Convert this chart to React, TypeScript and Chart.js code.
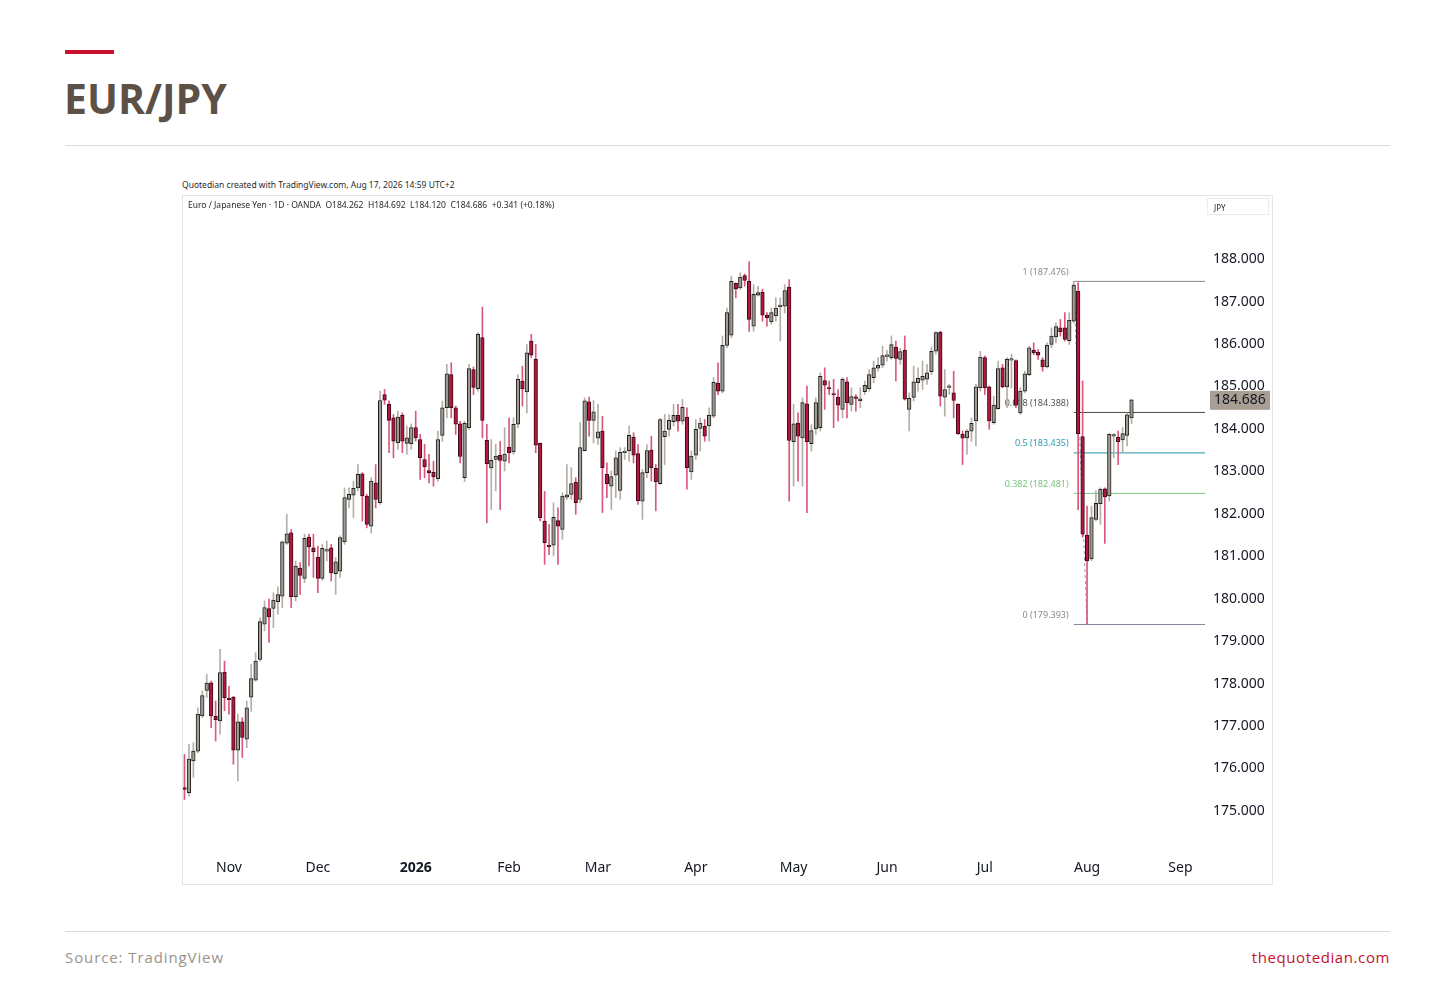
import React, { useEffect, useRef } from 'react';
import { Chart, registerables } from 'chart.js';

Chart.register(...registerables);

// ---- data (daily EUR/JPY, OANDA) ----
const openPrices = [
  175.55, 175.43, 176.18, 176.41, 177.24, 177.84, 178.02, 177.23, 177.12, 178.27,
  177.63, 177.68, 176.43, 177.10, 176.69, 177.68, 178.08, 178.57, 179.40, 179.77,
  179.77, 179.93, 180.06, 181.31, 181.55, 180.05, 180.72, 180.48, 181.45, 181.20,
  180.98, 180.48, 181.12, 181.20, 180.59, 180.65, 181.34, 182.34, 182.44, 182.61,
  182.94, 182.42, 181.71, 182.73, 182.26, 184.81, 184.58, 184.26, 183.67, 184.32,
  183.66, 183.65, 184.03, 183.75, 183.28, 183.02, 182.98, 182.83, 183.85, 184.50,
  185.28, 184.50, 184.12, 182.85, 184.03, 185.40, 184.95, 186.15, 183.73, 183.08,
  183.28, 183.38, 183.24, 183.57, 183.46, 184.11, 185.13, 184.87, 186.07, 185.64,
  183.66, 181.83, 181.26, 181.26, 181.84, 181.63, 182.39, 182.46, 182.75, 182.34,
  183.49, 184.64, 184.20, 183.78, 183.95, 182.93, 182.65, 182.91, 182.55, 183.44,
  183.49, 183.81, 183.42, 182.30, 182.97, 183.50, 183.07, 182.71, 183.82, 183.99,
  184.17, 184.32, 184.18, 184.28, 182.99, 183.38, 184.01, 184.06, 184.07, 184.30,
  185.08, 184.89, 185.97, 186.21, 187.43, 187.32, 187.61, 187.48, 186.42, 187.15,
  187.22, 186.68, 186.52, 186.66, 186.88, 186.89, 187.34, 183.70, 184.14, 183.79,
  184.59, 183.65, 184.00, 184.03, 185.14, 184.96, 184.82, 184.75, 184.46, 185.11,
  184.58, 184.73, 184.66, 184.88, 184.95, 185.21, 185.43, 185.50, 185.71, 185.68,
  185.93, 185.64, 185.85, 184.46, 184.74, 185.09, 185.15, 185.17, 185.35, 185.83,
  186.28, 184.75, 184.98, 184.85, 184.58, 183.87, 183.79, 183.95, 184.19, 184.97,
  185.68, 184.99, 184.15, 184.48, 185.44, 184.99, 185.62, 185.61, 184.38, 184.89,
  185.28, 185.86, 185.81, 185.63, 185.46, 185.99, 186.17, 186.38, 186.38, 186.08,
  186.54, 187.25, 183.82, 181.50, 180.94, 181.87, 182.24, 182.59, 182.42, 183.83,
  183.80, 183.74, 183.85, 184.262,
];
const highPrices = [
  176.33, 176.57, 176.61, 177.43, 177.83, 178.22, 178.06, 177.59, 178.81, 178.53,
  177.94, 177.70, 177.28, 177.20, 177.59, 178.45, 178.73, 179.55, 179.95, 179.99,
  180.14, 180.28, 181.36, 181.99, 181.63, 180.89, 180.85, 181.52, 181.52, 181.52,
  181.24, 181.28, 181.36, 181.28, 180.97, 181.48, 182.61, 182.61, 182.77, 183.16,
  182.97, 182.46, 182.85, 183.16, 184.89, 184.93, 184.66, 184.34, 184.42, 184.38,
  184.07, 184.12, 184.42, 183.87, 183.64, 183.40, 183.24, 183.95, 184.66, 185.52,
  185.56, 184.54, 184.18, 184.18, 185.52, 185.46, 186.27, 186.87, 184.11, 183.75,
  183.64, 183.71, 184.03, 184.26, 184.26, 185.28, 185.48, 185.99, 186.23, 185.99,
  183.67, 182.53, 181.75, 182.26, 182.14, 182.50, 183.16, 183.09, 182.85, 184.15,
  184.73, 184.75, 184.67, 184.58, 184.30, 183.20, 183.01, 183.48, 183.56, 183.56,
  184.07, 183.91, 183.63, 183.05, 183.63, 183.83, 183.16, 184.25, 184.34, 184.34,
  184.58, 184.58, 184.70, 184.50, 183.48, 184.22, 184.26, 184.22, 184.50, 185.21,
  185.56, 186.19, 186.85, 187.60, 187.44, 187.68, 187.65, 187.94, 187.40, 187.36,
  187.29, 186.74, 186.85, 187.09, 187.09, 187.40, 187.52, 184.58, 184.38, 184.73,
  185.01, 184.10, 184.73, 185.32, 185.44, 185.13, 185.17, 184.93, 185.21, 185.21,
  184.97, 184.81, 184.97, 185.13, 185.40, 185.60, 185.68, 185.95, 185.85, 186.19,
  186.07, 185.90, 186.19, 184.85, 185.48, 185.44, 185.60, 185.52, 185.93, 186.30,
  186.30, 185.40, 185.05, 185.36, 184.60, 183.95, 183.99, 184.26, 185.05, 185.83,
  185.72, 185.01, 184.77, 185.60, 185.52, 185.68, 185.76, 185.63, 184.97, 185.36,
  185.95, 186.03, 185.87, 185.68, 186.03, 186.38, 186.50, 186.58, 186.74, 186.74,
  187.476, 187.45, 185.13, 182.18, 182.18, 182.54, 182.61, 182.61, 183.89, 183.89,
  183.95, 184.03, 184.38, 184.692,
];
const lowPrices = [
  175.27, 175.35, 175.79, 176.37, 177.20, 177.67, 176.96, 176.65, 176.81, 177.36,
  177.28, 176.10, 175.71, 176.26, 176.49, 177.35, 178.06, 178.53, 179.24, 178.97,
  179.32, 179.63, 179.79, 181.28, 179.79, 179.95, 180.10, 180.38, 180.77, 180.50,
  180.14, 180.43, 180.89, 180.42, 180.10, 180.50, 181.28, 182.14, 181.91, 182.54,
  181.83, 181.67, 181.55, 182.14, 182.22, 184.58, 183.44, 183.32, 183.52, 183.44,
  183.40, 183.52, 183.71, 182.81, 182.85, 182.73, 182.65, 182.77, 183.71, 184.26,
  184.26, 183.87, 183.20, 182.76, 183.99, 184.81, 184.89, 183.79, 181.79, 182.10,
  182.54, 182.10, 183.01, 183.20, 183.40, 184.03, 184.54, 184.38, 185.68, 183.44,
  181.83, 180.81, 181.04, 181.01, 180.81, 181.40, 182.34, 182.34, 181.99, 182.26,
  183.48, 183.83, 183.67, 183.63, 182.03, 182.38, 182.10, 182.38, 182.34, 183.28,
  183.24, 183.20, 182.22, 181.87, 182.85, 182.77, 182.07, 182.69, 183.16, 183.83,
  184.07, 183.95, 184.11, 182.58, 182.81, 183.28, 183.48, 183.71, 183.71, 184.26,
  184.81, 184.85, 185.91, 186.15, 187.09, 187.29, 187.36, 186.30, 186.30, 187.13,
  186.54, 186.42, 186.46, 186.54, 186.07, 186.73, 182.30, 182.65, 182.77, 182.65,
  182.03, 183.48, 183.87, 183.95, 184.46, 184.81, 184.03, 184.19, 184.26, 184.26,
  184.42, 184.42, 184.50, 184.81, 184.89, 185.09, 185.36, 185.44, 185.60, 185.64,
  185.13, 185.52, 184.68, 183.95, 184.66, 184.89, 184.93, 185.05, 185.28, 185.76,
  184.54, 184.30, 184.81, 184.26, 183.87, 183.16, 183.40, 183.71, 183.60, 184.89,
  184.81, 183.99, 184.11, 184.46, 184.97, 184.50, 184.97, 184.50, 184.34, 184.85,
  185.25, 185.75, 185.64, 185.36, 185.44, 185.91, 186.03, 186.19, 186.07, 185.99,
  186.50, 182.10, 181.45, 179.393, 180.89, 181.83, 181.75, 181.30, 182.30, 183.32,
  183.16, 183.44, 183.60, 184.120,
];
const closePrices = [
  175.51, 176.22, 176.41, 177.28, 177.72, 178.01, 177.24, 177.15, 178.26, 177.67,
  177.62, 176.43, 177.10, 176.73, 177.43, 178.12, 178.53, 179.46, 179.79, 179.57,
  179.97, 180.10, 181.34, 181.53, 180.05, 180.77, 180.55, 181.42, 181.22, 181.11,
  180.48, 181.19, 181.13, 180.61, 180.87, 181.44, 182.38, 182.46, 182.60, 182.93,
  182.42, 181.75, 182.77, 182.34, 184.67, 184.68, 184.20, 183.71, 184.28, 183.71,
  183.79, 184.03, 183.79, 183.32, 183.11, 182.97, 182.87, 183.75, 184.50, 185.30,
  184.50, 184.11, 183.35, 184.13, 185.42, 184.98, 186.23, 184.20, 183.18, 183.26,
  183.36, 183.26, 183.41, 183.44, 184.11, 185.17, 184.95, 185.79, 185.74, 183.62,
  181.91, 181.32, 181.22, 181.92, 181.71, 182.42, 182.45, 182.71, 182.26, 183.56,
  184.66, 184.20, 184.40, 183.93, 183.09, 182.71, 182.88, 183.32, 183.45, 183.48,
  183.85, 183.38, 182.31, 182.97, 183.49, 183.09, 182.76, 184.22, 183.95, 184.20,
  184.32, 184.18, 184.51, 183.09, 183.36, 183.99, 184.14, 183.83, 184.32, 185.10,
  184.89, 185.97, 186.74, 187.48, 187.30, 187.58, 187.50, 186.58, 187.17, 187.21,
  186.68, 186.62, 186.74, 186.85, 186.92, 187.26, 183.73, 184.12, 183.83, 184.62,
  183.70, 183.96, 184.62, 185.24, 185.03, 184.94, 184.80, 184.56, 185.17, 184.62,
  184.76, 184.72, 184.71, 185.03, 185.28, 185.44, 185.50, 185.73, 185.73, 185.99,
  185.66, 185.82, 184.70, 184.72, 185.11, 185.19, 185.24, 185.32, 185.83, 186.27,
  184.77, 184.93, 185.00, 184.67, 183.89, 183.78, 183.95, 184.13, 184.99, 185.69,
  184.97, 184.19, 184.56, 185.42, 184.99, 185.64, 185.64, 184.56, 184.89, 185.30,
  185.91, 185.79, 185.74, 185.46, 185.97, 186.19, 186.41, 186.29, 186.11, 186.56,
  187.39, 183.89, 181.52, 180.89, 181.91, 182.25, 182.58, 182.40, 183.87, 183.86,
  183.70, 183.89, 184.33, 184.686,
];

// ---- axes ----
const monthLabels = ['Nov', 'Dec', '2026', 'Feb', 'Mar', 'Apr', 'May', 'Jun', 'Jul', 'Aug', 'Sep'];
const monthStartBars = [10, 30, 52, 73, 93, 115, 137, 158, 180, 203, 224];
const priceTicks = [175, 176, 177, 178, 179, 180, 181, 182, 183, 184, 185, 186, 187, 188];

// ---- Fibonacci retracement ----
const fibLevels = ['1', '0.618', '0.5', '0.382', '0'];
const fibPrices = [187.476, 184.388, 183.435, 182.481, 179.393];
const fibLineColors = ['#85858d', '#4a4a4a', '#1f98a8', '#7cc77f', '#85859a'];
const fibTextColors = ['#8a8a8a', '#555555', '#2a9bab', '#76c27a', '#8a8a8a'];
const fibHighBar = 200;
const fibLowBar = 203;

const X_MIN = -0.337;
const X_MAX = 229.53;
const Y_MIN = 174.08;
const Y_MAX = 189.04;

const UP_BODY = '#a29b91';
const DOWN_BODY = '#b3173f';
const UP_EDGE = '#1f1f1f';
const DOWN_EDGE = '#3c0a18';
const UP_WICK = '#b5aea6';
const DOWN_WICK = '#d9587f';

const FONT = '"Noto Sans", "Open Sans", sans-serif';

function isUp(i: number) {
  return closePrices[i] >= openPrices[i];
}

const overlayPlugin = {
  id: 'overlay',
  beforeDatasetsDraw(chart: any) {
    const { ctx, scales } = chart;
    const x = scales.x;
    const y = scales.y;
    ctx.save();
    ctx.font = `9px ${FONT}`;
    ctx.textAlign = 'right';
    ctx.textBaseline = 'middle';
    fibPrices.forEach((p, k) => {
      ctx.fillStyle = fibTextColors[k];
      ctx.fillText(
        `${fibLevels[k]} (${p.toFixed(3)})`,
        x.getPixelForValue(fibHighBar) - 5,
        y.getPixelForValue(p) - 9
      );
    });
    ctx.restore();
  },
  afterDraw(chart: any) {
    const { ctx, scales, chartArea } = chart;
    const y = scales.y;
    const last = closePrices[closePrices.length - 1];
    const py = y.getPixelForValue(last);
    const left = chartArea.right + 5;
    ctx.save();
    ctx.fillStyle = '#a89f94';
    ctx.fillRect(left, py - 9, 60, 19);
    ctx.fillStyle = '#131722';
    ctx.font = `14px ${FONT}`;
    ctx.textAlign = 'left';
    ctx.textBaseline = 'middle';
    ctx.fillText(last.toFixed(3), left + 4, py + 0.5);
    ctx.restore();
  },
};

function CandleChart() {
  const ref = useRef<HTMLCanvasElement | null>(null);

  useEffect(() => {
    if (!ref.current) return;
    const idx = openPrices.map((_, i) => i);

    const fibDatasets = fibPrices.map((p, k) => ({
      type: 'line' as const,
      data: [
        { x: fibHighBar, y: p },
        { x: X_MAX, y: p },
      ],
      borderColor: fibLineColors[k],
      borderWidth: 1,
      pointRadius: 0,
      order: 5,
    }));

    const trendDataset = {
      type: 'line' as const,
      data: [
        { x: fibHighBar, y: highPrices[fibHighBar] },
        { x: fibLowBar, y: lowPrices[fibLowBar] },
      ],
      borderColor: '#9a9aa2',
      borderWidth: 1,
      borderDash: [3, 3],
      pointRadius: 0,
      order: 4,
    };

    const chart = new Chart(ref.current, {
      type: 'bar',
      data: {
        datasets: [
          ...fibDatasets,
          trendDataset,
          {
            type: 'bar',
            data: idx.map((i) => ({ x: i, y: [lowPrices[i], highPrices[i]] })),
            backgroundColor: idx.map((i) => (isUp(i) ? UP_WICK : DOWN_WICK)),
            barThickness: 1,
            grouped: false,
            order: 3,
          } as any,
          {
            type: 'bar',
            data: idx.map((i) => ({ x: i, y: [openPrices[i], closePrices[i]] })),
            backgroundColor: idx.map((i) => (isUp(i) ? UP_BODY : DOWN_BODY)),
            borderColor: idx.map((i) => (isUp(i) ? UP_EDGE : DOWN_EDGE)),
            borderWidth: 1,
            borderSkipped: false,
            barThickness: 3.6,
            minBarLength: 1.5,
            grouped: false,
            order: 2,
          } as any,
        ],
      },
      options: {
        animation: false,
        responsive: true,
        maintainAspectRatio: false,
        layout: { padding: { top: 19, left: 0, right: 0, bottom: 0 } },
        plugins: {
          legend: { display: false },
          tooltip: { enabled: false },
        },
        scales: {
          x: {
            type: 'linear',
            min: X_MIN,
            max: X_MAX,
            offset: false,
            grid: { display: false, drawTicks: false },
            border: { display: false },
            afterBuildTicks: (s: any) => {
              s.ticks = monthStartBars.map((v) => ({ value: v }));
            },
            afterFit: (s: any) => {
              s.height = 34;
            },
            ticks: {
              autoSkip: false,
              maxRotation: 0,
              padding: 10,
              color: '#131722',
              font: (c: any) => ({
                family: FONT,
                size: 14,
                weight: c.tick && monthLabels[monthStartBars.indexOf(c.tick.value)] === '2026' ? 'bold' : 'normal',
              }),
              callback: (v: any) => {
                const k = monthStartBars.indexOf(Number(v));
                return k >= 0 ? monthLabels[k] : '';
              },
            },
          },
          y: {
            type: 'linear',
            position: 'right',
            min: Y_MIN,
            max: Y_MAX,
            grid: { display: false, drawTicks: false },
            border: { display: false },
            afterBuildTicks: (s: any) => {
              s.ticks = priceTicks.map((v) => ({ value: v }));
            },
            afterFit: (s: any) => {
              s.width = 67;
            },
            ticks: {
              padding: 8,
              color: '#131722',
              font: { family: FONT, size: 14 },
              callback: (v: any) => Number(v).toFixed(3),
            },
          },
        },
      } as any,
      plugins: [overlayPlugin],
    });
    return () => chart.destroy();
  }, []);

  return <canvas ref={ref} />;
}

export default function App() {
  const abs = (s: React.CSSProperties): React.CSSProperties => ({ position: 'absolute', ...s });
  return (
    <div style={abs({ left: 0, top: 0, width: 1456, height: 990, background: '#ffffff', overflow: 'hidden' })}>
      <div style={abs({ left: 65, top: 50, width: 49, height: 4, background: '#c8102e' })} />
      <div
        style={abs({
          left: 64,
          top: 78,
          fontFamily: '"Open Sans", sans-serif',
          fontWeight: 700,
          fontSize: 41,
          lineHeight: '41px',
          color: '#5c5047',
          whiteSpace: 'nowrap',
        })}
      >
        EUR/JPY
      </div>
      <div style={abs({ left: 65, top: 145, width: 1325, height: 1, background: '#dcdcdc' })} />

      <div
        style={abs({
          left: 182,
          top: 180,
          fontFamily: FONT,
          fontSize: 8.5,
          lineHeight: '10px',
          color: '#2a2a2a',
          whiteSpace: 'nowrap',
        })}
      >
        Quotedian created with TradingView.com, Aug 17, 2026 14:59 UTC+2
      </div>

      <div style={abs({ left: 182, top: 195, width: 1089, height: 688, border: '1px solid #e4e4e4' })} />
      <div style={abs({ left: 183, top: 196, width: 1089, height: 688 })}>
        <CandleChart />
      </div>

      <div
        style={abs({
          left: 188,
          top: 200,
          fontFamily: FONT,
          fontSize: 8.5,
          lineHeight: '10px',
          color: '#2a2a2a',
          whiteSpace: 'pre',
        })}
      >
        {'Euro / Japanese Yen · 1D · OANDA  O184.262  H184.692  L184.120  C184.686  +0.341 (+0.18%)'}
      </div>
      <div
        style={abs({
          left: 1207,
          top: 198,
          width: 62,
          height: 17,
          border: '1px solid #ececec',
          fontFamily: FONT,
          fontSize: 8,
          lineHeight: '17px',
          color: '#2a2a2a',
          paddingLeft: 6,
          boxSizing: 'border-box',
        })}
      >
        JPY
      </div>

      <div style={abs({ left: 65, top: 931, width: 1325, height: 1, background: '#dcdcdc' })} />
      <div
        style={abs({
          left: 65,
          top: 947,
          fontFamily: '"Open Sans", sans-serif',
          fontSize: 15,
          lineHeight: '20px',
          letterSpacing: 0.9,
          color: '#9c928b',
          whiteSpace: 'nowrap',
        })}
      >
        Source: TradingView
      </div>
      <div
        style={abs({
          right: 1456 - 1390,
          top: 947,
          fontFamily: '"Open Sans", sans-serif',
          fontSize: 15,
          lineHeight: '20px',
          letterSpacing: 0.6,
          color: '#c8102e',
          whiteSpace: 'nowrap',
        })}
      >
        thequotedian.com
      </div>
    </div>
  );
}
